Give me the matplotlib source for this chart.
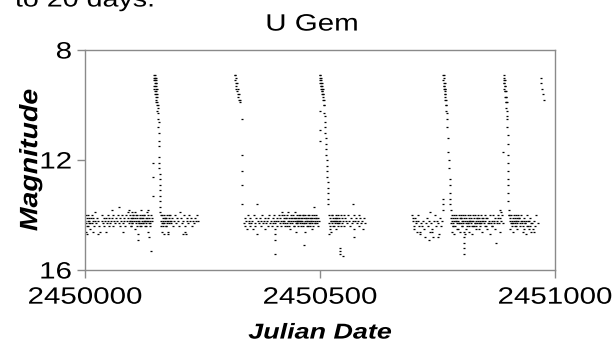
import numpy as np
import matplotlib
matplotlib.use("Agg")
import matplotlib.pyplot as plt
from matplotlib.patheffects import AbstractPathEffect
from matplotlib.transforms import Affine2D

plt.rcParams['font.family'] = ['Liberation Sans', 'DejaVu Sans']

# Julian Date offsets from 2450000 and visual magnitudes
# season 1 quiescence
q1_days = [
    1, 2, 3, 4, 5, 6, 7, 8, 9, 10,
    2, 4, 6, 8, 11, 12, 14, 15, 16, 17,
    18, 20, 21, 22, 24, 26, 27, 28, 30, 31,
    36, 37, 38, 40, 41, 42, 44, 45, 46, 48,
    49, 50, 52, 53, 55, 57, 58, 59, 60, 62,
    64, 66, 68, 70, 72, 73, 74, 75, 77, 78,
    80, 81, 83, 84, 86, 88, 90, 91, 92, 93,
    94, 95, 96, 97, 98, 99, 100, 101, 102, 103,
    95, 97, 99, 101, 103, 105, 106, 107, 108, 109,
    110, 111, 112, 113, 114, 115, 116, 117, 118, 119,
    107, 109, 111, 113, 115, 117, 119, 120, 121, 122,
    123, 124, 125, 126, 127, 128, 129, 130, 131, 132,
    121, 123, 125, 127, 129, 131, 133, 134, 135, 136,
    137, 138, 139, 140, 141, 142, 143, 134, 136, 138,
]
q1_mag = [
    14.2, 14.0, 14.3, 14.1, 14.4, 14.2, 14.0, 14.3, 14.1, 14.5,
    14.6, 14.7, 14.4, 14.2, 14.3, 14.1, 14.0, 14.3, 14.6, 14.2,
    14.1, 14.4, 14.2, 13.9, 14.3, 14.1, 14.7, 14.2, 14.4, 14.6,
    14.2, 14.0, 14.3, 14.1, 14.4, 14.2, 14.6, 14.1, 14.3, 14.0,
    14.2, 14.4, 14.1, 14.3, 14.2, 13.8, 14.1, 14.4, 14.0, 14.2,
    14.3, 14.1, 14.2, 14.0, 13.7, 14.3, 14.1, 14.4, 14.2, 14.0,
    14.3, 14.6, 14.1, 14.2, 14.4, 14.0, 14.2, 13.9, 14.1, 13.8,
    14.3, 14.0, 14.2, 14.4, 14.1, 13.9, 14.3, 14.2, 14.0, 14.1,
    14.2, 14.4, 14.1, 14.3, 14.0, 14.2, 14.1, 14.5, 14.3, 14.0,
    14.4, 14.1, 14.2, 14.9, 14.3, 14.2, 14.0, 14.4, 14.1, 14.3,
    13.9, 14.2, 14.0, 14.7, 14.3, 14.1, 14.4, 13.8, 14.2, 14.0,
    14.1, 14.3, 14.2, 14.0, 14.4, 14.2, 14.1, 14.3, 13.9, 14.2,
    14.1, 14.3, 14.0, 14.2, 14.4, 14.1, 13.8, 14.2, 14.0, 14.3,
    14.1, 14.4, 14.2, 14.0, 15.3, 14.2, 14.1, 14.6, 14.8, 14.3,
]
q1b_days = [
    162, 163, 164, 165, 166, 167, 168, 169, 170, 171,
    172, 173, 174, 175, 176, 177, 178, 179, 180, 181,
    164, 166, 168, 170, 172, 174, 176, 178, 182, 184,
    186, 188, 190, 192, 194, 196, 198, 200, 202, 204,
    206, 208, 210, 212, 214, 216, 218, 220, 222, 224,
    226, 228, 230, 232, 234, 236, 238, 240, 209, 213,
]
q1b_mag = [
    14.2, 14.0, 14.3, 14.1, 14.4, 14.2, 14.0, 14.3, 14.1, 14.2,
    14.4, 14.1, 14.3, 14.0, 14.2, 14.6, 14.1, 14.3, 14.2, 14.0,
    14.6, 14.3, 14.7, 14.1, 14.4, 14.2, 14.7, 14.0, 14.2, 14.3,
    14.1, 14.4, 14.2, 14.0, 14.3, 14.1, 14.2, 14.4, 13.9, 14.1,
    14.3, 14.2, 14.0, 14.4, 14.7, 14.2, 14.1, 14.3, 14.0, 14.2,
    14.1, 14.4, 14.2, 14.3, 14.1, 14.2, 14.0, 14.2, 14.7, 14.6,
]

# season 2 quiescence
q2_days = [
    338, 340, 341, 343, 344, 346, 348, 349, 351, 352,
    354, 356, 357, 359, 361, 362, 364, 366, 367, 369,
    370, 372, 374, 375, 377, 379, 380, 382, 384, 385,
    387, 389, 390, 392, 394, 395, 397, 399, 400, 402,
    403, 404, 405, 405, 405, 405, 406, 408, 409, 411,
    412, 414, 415, 417, 418, 420, 421, 423, 424, 426,
    427, 429, 430, 432, 433, 435, 436, 438, 439, 441,
    420, 422, 424, 426, 428, 430, 432, 434, 436, 438,
    440, 442, 443, 444, 445, 446, 447, 448, 449, 450,
    451, 452, 453, 454, 455, 456, 457, 458, 459, 460,
    444, 446, 448, 450, 452, 454, 456, 458, 460, 462,
    461, 462, 463, 464, 465, 466, 467, 468, 469, 470,
    471, 472, 473, 474, 475, 476, 477, 478, 479, 480,
    464, 466, 468, 470, 472, 474, 476, 478, 480, 482,
    481, 482, 483, 484, 485, 486, 487, 488, 489, 490,
    491, 492, 493, 494, 495, 496, 497, 488, 490, 492,
]
q2_mag = [
    14.3, 14.1, 14.4, 14.2, 14.5, 14.0, 14.3, 14.2, 14.4, 14.1,
    14.3, 14.2, 14.5, 14.0, 14.3, 14.4, 14.1, 13.6, 14.7, 14.2,
    14.3, 14.1, 14.4, 14.2, 14.0, 14.3, 14.2, 14.5, 14.1, 14.3,
    14.2, 14.4, 14.1, 14.0, 14.3, 14.2, 14.4, 14.1, 14.3, 14.2,
    14.0, 14.3, 14.5, 14.7, 14.9, 15.4, 14.2, 14.1, 14.4, 14.2,
    14.0, 14.3, 14.1, 14.4, 14.2, 14.0, 14.3, 14.1, 14.2, 14.4,
    14.1, 14.3, 14.0, 14.2, 14.4, 14.1, 14.3, 14.0, 14.2, 14.1,
    13.9, 14.2, 14.0, 14.3, 14.1, 14.4, 13.9, 14.2, 14.5, 14.1,
    14.3, 14.0, 14.2, 14.1, 14.4, 14.2, 13.9, 14.3, 14.1, 14.2,
    14.0, 14.3, 14.2, 14.4, 14.1, 14.2, 14.0, 14.3, 14.1, 14.2,
    14.4, 14.1, 14.6, 14.2, 14.3, 14.1, 14.0, 14.2, 14.4, 14.1,
    14.3, 14.2, 14.0, 14.4, 14.1, 14.3, 15.1, 14.2, 14.0, 14.1,
    14.3, 14.2, 14.4, 14.1, 14.0, 14.2, 14.3, 14.1, 14.4, 14.2,
    14.0, 14.3, 14.6, 14.1, 14.2, 14.4, 14.0, 14.3, 14.1, 14.5,
    14.2, 14.0, 14.3, 14.1, 14.2, 14.4, 14.1, 13.7, 14.2, 14.3,
    14.1, 14.0, 14.2, 14.3, 14.1, 14.4, 14.2, 14.0, 14.3, 14.1,
]
q2b_days = [
    519, 520, 521, 522, 523, 524, 525, 526, 527, 528,
    520, 522, 524, 526, 528, 530, 531, 532, 533, 534,
    535, 536, 537, 538, 539, 540, 541, 542, 543, 544,
    530, 532, 534, 536, 538, 540, 542, 543, 545, 547,
    549, 546, 548, 550, 552, 554, 556, 558, 560, 562,
    564, 566, 568, 570, 571, 572, 572, 572, 574, 576,
    578, 580, 582, 584, 586, 588, 590, 592, 594, 596,
]
q2b_mag = [
    14.0, 14.3, 14.1, 14.4, 14.6, 14.2, 14.0, 14.3, 14.1, 14.2,
    14.7, 14.5, 14.2, 14.0, 14.4, 14.2, 14.1, 14.3, 14.0, 14.2,
    14.1, 14.3, 14.2, 14.0, 14.4, 14.1, 14.3, 15.2, 14.2, 14.0,
    14.4, 14.2, 14.5, 14.1, 14.3, 14.2, 15.4, 15.3, 14.4, 14.1,
    15.5, 14.3, 14.2, 14.0, 14.4, 14.1, 14.2, 14.3, 14.0, 14.2,
    14.4, 14.1, 14.3, 14.2, 13.6, 14.0, 14.5, 14.8, 14.2, 14.1,
    14.3, 14.2, 14.0, 14.4, 14.1, 14.3, 14.2, 14.5, 14.1, 14.3,
]

# season 3 quiescence
q3a_days = [
    696, 698, 700, 702, 704, 706, 708, 710, 712, 714,
    697, 701, 705, 709, 713, 717, 719, 721, 723, 725,
    727, 729, 731, 733, 735, 737, 739, 741, 743, 745,
    747, 749, 751, 753, 755, 757, 759, 731, 738, 750,
]
q3a_mag = [
    14.0, 14.2, 14.4, 14.1, 14.3, 14.6, 14.2, 14.4, 14.7, 14.3,
    14.1, 14.5, 14.2, 14.0, 14.6, 14.4, 14.2, 14.5, 14.8, 14.3,
    14.1, 14.4, 14.2, 14.6, 13.9, 14.3, 14.5, 14.8, 14.2, 14.0,
    14.4, 14.2, 14.3, 14.7, 14.1, 14.4, 14.2, 14.9, 14.6, 14.8,
]
q3b_days = [
    778, 779, 780, 781, 782, 783, 784, 785, 786, 787,
    788, 789, 790, 791, 792, 793, 794, 795, 796, 797,
    780, 783, 786, 789, 792, 795, 798, 800, 802, 804,
    799, 800, 801, 802, 803, 804, 805, 806, 807, 807,
    807, 807, 807, 808, 809, 810, 811, 812, 813, 814,
    815, 816, 817, 818, 819, 820, 821, 822, 823, 824,
    808, 811, 814, 817, 820, 823, 826, 829, 832, 835,
    825, 826, 827, 828, 829, 830, 831, 832, 833, 834,
    836, 837, 838, 839, 840, 841, 842, 843, 844, 845,
    838, 841, 844, 847, 850, 853, 856, 859, 862, 865,
    846, 848, 850, 852, 854, 856, 858, 860, 862, 864,
    866, 868, 870, 872, 874, 876, 878, 880, 882, 884,
    867, 870, 873, 876, 879, 882, 885, 886, 888, 890,
]
q3b_mag = [
    14.1, 14.3, 14.0, 14.2, 14.4, 14.1, 14.3, 14.0, 14.2, 14.1,
    14.4, 14.2, 14.0, 14.3, 14.1, 14.5, 14.2, 14.0, 14.3, 14.1,
    14.6, 14.4, 14.7, 14.2, 14.5, 14.3, 14.6, 14.1, 14.4, 14.2,
    14.0, 14.3, 14.1, 14.4, 14.2, 14.0, 14.3, 14.1, 14.6, 14.8,
    15.0, 15.2, 15.4, 14.2, 14.0, 14.3, 14.1, 14.4, 14.2, 14.0,
    14.3, 14.1, 14.2, 14.4, 14.0, 14.2, 14.3, 14.1, 14.4, 14.2,
    14.7, 14.5, 14.3, 14.6, 14.2, 14.7, 14.4, 14.3, 14.5, 14.1,
    14.0, 14.2, 14.4, 14.1, 14.3, 14.0, 14.2, 14.4, 14.1, 14.3,
    14.2, 14.0, 14.3, 14.1, 14.4, 14.2, 14.0, 14.3, 14.1, 14.2,
    14.5, 14.3, 14.6, 14.2, 14.4, 14.1, 14.5, 14.3, 14.7, 14.4,
    14.1, 14.3, 14.0, 14.2, 14.4, 14.1, 14.3, 14.2, 14.0, 14.3,
    14.2, 14.0, 14.3, 14.1, 15.0, 14.2, 14.0, 14.3, 14.1, 13.8,
    14.4, 14.2, 14.5, 14.3, 14.1, 14.6, 14.2, 13.9, 14.0, 14.3,
]
q3c_days = [
    903, 904, 905, 906, 907, 908, 909, 910, 911, 912,
    913, 914, 915, 916, 917, 918, 919, 920, 921, 922,
    905, 908, 911, 914, 917, 920, 923, 925, 927, 929,
    924, 926, 928, 930, 932, 934, 936, 938, 940, 942,
    931, 933, 935, 937, 939, 941, 943, 945, 947, 949,
    944, 946, 948, 950, 953, 956, 957, 960, 963, 955,
]
q3c_mag = [
    14.0, 14.2, 14.1, 14.3, 14.0, 14.2, 14.4, 14.1, 14.3, 14.2,
    14.0, 14.3, 14.1, 14.2, 14.4, 14.0, 14.3, 14.1, 14.2, 14.0,
    14.5, 14.3, 14.6, 14.4, 14.2, 14.5, 14.1, 14.4, 14.2, 14.3,
    14.1, 14.3, 14.0, 14.2, 14.4, 14.1, 14.3, 14.2, 14.0, 14.4,
    14.6, 14.2, 14.5, 14.3, 14.7, 14.4, 14.2, 14.5, 14.1, 14.3,
    14.2, 14.4, 14.6, 14.3, 14.5, 14.2, 14.4, 14.0, 14.3, 14.6,
]

# outbursts
ob1_days = [
    144, 145, 145, 146, 146, 147, 147, 147, 148, 148,
    148, 148, 149, 149, 149, 149, 150, 150, 150, 150,
    151, 151, 151, 151, 152, 152, 152, 153, 153, 153,
    154, 154, 154, 155, 155, 156, 156, 156, 157, 157,
    157, 158, 158, 158, 158, 159, 159, 159, 159, 160,
    160, 160, 160, 161, 161,
]
ob1_mag = [
    13.3, 12.6, 12.1, 9.0, 9.3, 8.9, 9.1, 9.4, 8.9, 9.0,
    9.2, 9.5, 9.0, 9.1, 9.3, 9.6, 9.0, 9.2, 9.4, 9.7,
    9.1, 9.3, 9.5, 9.8, 9.2, 9.6, 9.9, 9.4, 9.7, 10.0,
    9.6, 9.9, 10.2, 10.0, 10.3, 10.1, 10.5, 10.8, 10.6, 11.0,
    11.3, 11.5, 11.9, 12.1, 12.3, 12.5, 12.7, 12.9, 13.1, 13.3,
    13.5, 13.7, 13.9, 14.0, 14.4,
]
ob2_days = [319, 320, 320, 321, 321, 322, 322, 323, 324, 325,
            325, 326, 327, 328, 329, 330, 333, 334, 334, 335, 335]
ob2_mag = [8.9, 8.9, 9.1, 9.0, 9.2, 9.3, 9.4, 9.2, 9.5, 9.6,
           9.4, 9.7, 9.6, 9.8, 9.8, 9.9, 10.5, 11.8, 12.4, 12.9, 13.6]
ob3_days = [
    499, 499, 499, 500, 500, 501, 501, 501, 502, 502,
    502, 503, 503, 503, 504, 504, 504, 505, 505, 505,
    506, 506, 506, 507, 507, 508, 508, 509, 509, 510,
    510, 511, 511, 512, 512, 513, 513, 514, 514, 515,
    515, 516, 516, 517, 517, 518,
]
ob3_mag = [
    11.3, 10.9, 10.2, 9.0, 8.9, 8.9, 9.1, 9.2, 9.0, 9.2,
    9.3, 9.1, 9.3, 9.4, 9.2, 9.4, 9.5, 9.3, 9.5, 9.6,
    9.4, 9.6, 9.7, 9.6, 9.8, 9.8, 10.0, 10.0, 10.3, 10.4,
    10.6, 10.8, 11.0, 11.2, 11.4, 11.6, 11.8, 12.0, 12.2, 12.4,
    12.6, 12.8, 13.0, 13.2, 13.4, 13.6,
]
ob4_days = [
    761, 761, 761, 762, 762, 763, 763, 763, 764, 764,
    764, 765, 765, 765, 766, 766, 766, 767, 767, 768,
    768, 769, 769, 770, 770, 771, 772, 773, 774, 775,
    776, 776, 777, 777, 777, 778,
]
ob4_mag = [
    13.8, 13.6, 13.4, 8.9, 9.1, 8.9, 9.2, 9.3, 9.0, 9.3,
    9.4, 9.2, 9.4, 9.5, 9.4, 9.6, 9.7, 9.6, 9.8, 9.8,
    10.0, 10.0, 10.2, 10.3, 10.5, 10.8, 11.2, 11.7, 12.0, 12.3,
    12.7, 12.9, 13.2, 13.4, 13.6, 13.8,
]
ob5_days = [
    890, 891, 891, 891, 892, 892, 892, 893, 893, 893,
    894, 894, 894, 895, 895, 895, 896, 896, 896, 897,
    897, 897, 898, 898, 899, 899, 899, 900, 900, 900,
    901, 901, 901, 902, 902,
]
ob5_mag = [
    11.7, 8.9, 9.1, 9.2, 9.0, 9.2, 9.4, 9.1, 9.3, 9.5,
    9.3, 9.5, 9.7, 9.5, 9.7, 9.9, 9.7, 9.9, 10.1, 9.9,
    10.2, 10.4, 10.5, 10.8, 11.1, 11.4, 11.8, 12.1, 12.4, 12.7,
    12.9, 13.2, 13.5, 13.8, 14.0,
]
ob6_days = [970, 971, 973, 975, 977]
ob6_mag = [9.0, 9.2, 9.4, 9.6, 9.8]

jd_start = 2450000

days = np.concatenate([q1_days, q1b_days, q2_days, q2b_days, q3a_days, q3b_days,
                       q3c_days, ob1_days, ob2_days, ob3_days, ob4_days, ob5_days, ob6_days])
mags = np.concatenate([q1_mag, q1b_mag, q2_mag, q2b_mag, q3a_mag, q3b_mag,
                       q3c_mag, ob1_mag, ob2_mag, ob3_mag, ob4_mag, ob5_mag, ob6_mag])
jd = jd_start + days


# the original picture is stretched sideways, so the lettering is wide
class HStretch(AbstractPathEffect):
    def __init__(self, sx, anchor='center'):
        super().__init__()
        self.sx = sx
        self.anchor = anchor

    def draw_path(self, renderer, gc, tpath, affine, rgbFace=None):
        bb = tpath.get_extents(affine)
        if self.anchor == 'left':
            x0 = bb.x0
        elif self.anchor == 'right':
            x0 = bb.x1
        else:
            x0 = (bb.x0 + bb.x1) / 2
        wide = affine + Affine2D().translate(-x0, 0).scale(self.sx, 1).translate(x0, 0)
        renderer.draw_path(gc, tpath, wide, rgbFace)


sx = 1.25

fig = plt.figure(figsize=(6.13, 3.43), dpi=100)
ax = fig.add_axes([85 / 613, 1 - 270 / 343, 470 / 613, 220 / 343])

ax.plot(jd, mags, linestyle='none', marker='_', markersize=1.9,
        markeredgewidth=0.9, color='black')

ax.set_xlim(2450000, 2451000)
ax.set_ylim(16, 8)
ax.set_xticks([2450000, 2450500, 2451000])
ax.set_xticklabels(['2450000', '2450500', '2451000'])
ax.set_yticks([8, 12, 16])

for side in ['left', 'right', 'top', 'bottom']:
    ax.spines[side].set_color('#8a8a8a')
    ax.spines[side].set_linewidth(1.0)
ax.tick_params(axis='both', direction='out', length=6, width=1.0,
               color='#8a8a8a', labelsize=17)
ax.tick_params(axis='x', pad=6)
ax.tick_params(axis='y', pad=3.5)

title = ax.set_title('U Gem', fontsize=17, pad=14, x=0.483)
xlab = ax.set_xlabel('Julian Date', fontsize=15.5, fontweight='bold', fontstyle='italic', labelpad=10)
ylab = ax.set_ylabel('Magnitude', fontsize=20.5, fontweight='bold', fontstyle='italic', labelpad=1)

# fragment of the surrounding document text, cut off at the top edge
frag = fig.text(15 / 613, 1 - 6.5 / 343, 'to 20 days.', fontsize=16.5, va='baseline', ha='left')

fig.canvas.draw()
for tick in ax.xaxis.get_major_ticks():
    tick.label1.set_path_effects([HStretch(sx, 'center')])
for tick in ax.yaxis.get_major_ticks():
    tick.label1.set_path_effects([HStretch(sx, 'right')])
title.set_path_effects([HStretch(sx, 'center')])
xlab.set_path_effects([HStretch(sx, 'center')])
ylab.set_path_effects([HStretch(0.88, 'center')])
frag.set_path_effects([HStretch(sx, 'left')])

fig.savefig('out.png', dpi=100)
